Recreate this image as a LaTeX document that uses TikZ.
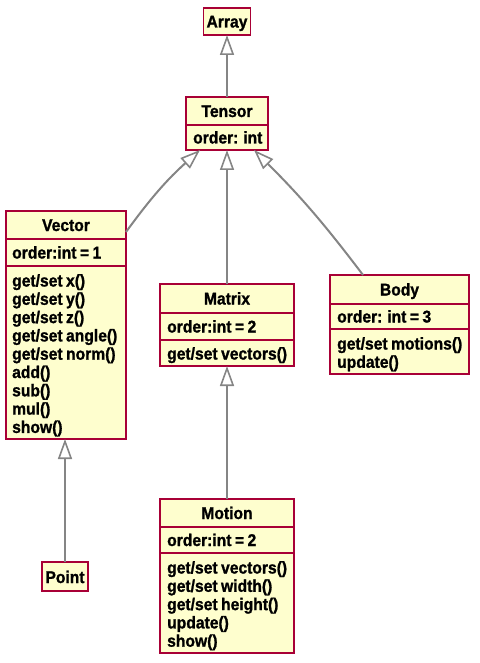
\documentclass[tikz,border=0pt]{standalone}
\usepackage{fontspec}
\setmainfont{Liberation Sans}[FakeStretch=0.92, WordSpace=0.8, BoldFeatures={FakeBold=1.2}]
\usetikzlibrary{arrows.meta,calc}

\definecolor{umlfill}{HTML}{FEFECE}
\definecolor{umlborder}{HTML}{A80036}
\definecolor{linkgray}{HTML}{858585}

\tikzset{
  cls/.style={draw=umlborder, fill=umlfill, line width=1.2pt, inner sep=0pt, outer sep=0pt},
  divider/.style={draw=umlborder, line width=1.2pt},
  lbl/.style={inner sep=0pt, anchor=base west, font=\bfseries\fontsize{17}{18.3}\selectfont},
  ttl/.style={lbl, anchor=base},
  inh/.style={draw=linkgray, line width=2pt,
    -{Triangle[open, length=20pt, width=14pt, line width=1.6pt]}},
}

% class box from its top-left and bottom-right corners
\newcommand\umlbox[5]{%
  \node[cls, minimum width={#4-#2}, minimum height={#5-#3}] (#1) at ({(#2+#4)/2},{(#3+#5)/2}) {};}
% horizontal compartment line across a box
\newcommand\umlsep[2]{%
  \draw[divider] (#1.west |- 0,#2) -- (#1.east |- 0,#2);}

\begin{document}
\begin{tikzpicture}[x=1pt, y=-1pt]
\useasboundingbox (0,0) rectangle (479,663);

% Array
\umlbox{array}{203.5}{8}{250.5}{35}
\node[ttl] (array-t) at (array.center |- 0,27.5) {Array};

% Tensor
\umlbox{tensor}{186}{97}{268}{150}
\umlsep{tensor}{125}
\node[ttl] (tensor-t) at (tensor.center |- 0,117) {Tensor};
\node[lbl] (tensor-a) at (193,143.5) {order: int};

% Vector
\umlbox{vector}{6}{211}{126}{439}
\umlsep{vector}{239}
\umlsep{vector}{266}
\node[ttl] (vector-t) at (vector.center |- 0,231) {Vector};
\node[lbl] (vector-a) at (12,258.5) {order:int = 1};
\foreach \s [count=\i from 0] in {get/set x(), get/set y(), get/set z(),
    get/set angle(), get/set norm(), add(), sub(), mul(), show()}
  \node[lbl] (vector-m\i) at (12,{286.5+18.3*\i}) {\s};

% Matrix
\umlbox{matrix}{160}{284}{294}{366}
\umlsep{matrix}{313}
\umlsep{matrix}{340}
\node[ttl] (matrix-t) at (matrix.center |- 0,304.5) {Matrix};
\node[lbl] (matrix-a) at (167,332.5) {order:int = 2};
\node[lbl] (matrix-m0) at (167,359.5) {get/set vectors()};

% Body
\umlbox{body}{330}{275}{469}{374}
\umlsep{body}{304}
\umlsep{body}{329}
\node[ttl] (body-t) at (body.center |- 0,295.5) {Body};
\node[lbl] (body-a) at (337,322.5) {order: int = 3};
\foreach \s [count=\i from 0] in {get/set motions(), update()}
  \node[lbl] (body-m\i) at (337,{349.5+18.3*\i}) {\s};

% Point
\umlbox{point}{42}{562}{88}{591}
\node[ttl] (point-t) at (point.center |- 0,583) {Point};

% Motion
\umlbox{motion}{160}{499}{294}{653}
\umlsep{motion}{527}
\umlsep{motion}{553}
\node[ttl] (motion-t) at (motion.center |- 0,519) {Motion};
\node[lbl] (motion-a) at (167,546) {order:int = 2};
\foreach \s [count=\i from 0] in {get/set vectors(), get/set width(),
    get/set height(), update(), show()}
  \node[lbl] (motion-m\i) at (167,{573.5+18.3*\i}) {\s};

% inheritance links
\draw[inh] (tensor.north) -- (array.south);
\draw[inh] ($(vector.north east)+(0,21)$) to[bend left=6] ($(tensor.south west)+(14,0)$);
\draw[inh] (matrix.north) -- (matrix.north |- tensor.south);
\draw[inh] ($(body.north west)+(33,0)$) to[bend right=4] ($(tensor.south east)+(-14,0)$);
\draw[inh] (motion.north) -- (motion.north |- matrix.south);
\draw[inh] (point.north) -- (point.north |- vector.south);
\end{tikzpicture}
\end{document}
